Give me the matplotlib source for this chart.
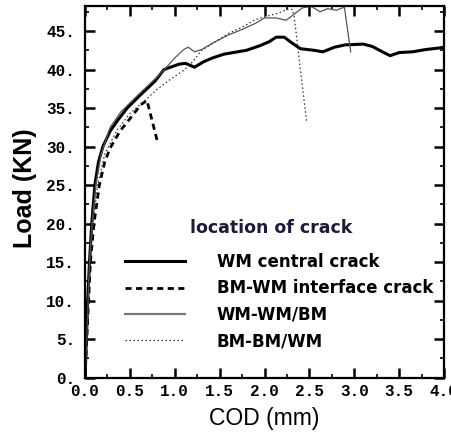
import numpy as np
import matplotlib
matplotlib.use("Agg")
import matplotlib.pyplot as plt
from matplotlib.ticker import MultipleLocator, FuncFormatter

# load-COD curves, one pair of arrays per crack location
wm_central_cod = [0, 0.015, 0.03, 0.05, 0.075, 0.11, 0.15, 0.2, 0.28, 0.37, 0.47, 0.6, 0.69, 0.78, 0.88,
                  1.05, 1.12, 1.22, 1.32, 1.42, 1.55, 1.7, 1.8, 1.95, 2.05, 2.13, 2.22, 2.3, 2.4, 2.55,
                  2.65, 2.78, 2.9, 3.1, 3.2, 3.33, 3.4, 3.5, 3.65, 3.8, 3.95, 4.0]
wm_central_load = [0, 5, 10, 15, 20, 25, 28, 30, 32, 33.5, 35, 36.5, 37.5, 38.5, 40,
                   40.7, 40.8, 40.3, 41, 41.5, 42, 42.3, 42.5, 43.1, 43.6, 44.2, 44.2, 43.5, 42.7, 42.5,
                   42.3, 42.9, 43.2, 43.3, 43.0, 42.2, 41.8, 42.2, 42.3, 42.6, 42.8, 42.9]

interface_cod = [0, 0.02, 0.06, 0.1, 0.16, 0.22, 0.28, 0.39, 0.54, 0.62, 0.69, 0.81]
interface_load = [0, 5, 15, 20, 25, 28, 29.8, 32, 34.2, 35.4, 36, 30.5]

wm_wmbm_cod = [0, 0.02, 0.05, 0.08, 0.12, 0.18, 0.28, 0.4, 0.6, 0.8, 0.9, 1.0, 1.1, 1.15, 1.22, 1.3,
               1.45, 1.6, 1.75, 1.9, 2.0, 2.13, 2.24, 2.32, 2.42, 2.52, 2.62, 2.7, 2.8, 2.89, 2.96]
wm_wmbm_load = [0, 5, 15, 20, 25, 29, 32.5, 34.5, 36.8, 39, 40.2, 41.5, 42.6, 42.9, 42.3, 42.6,
                43.6, 44.5, 45.2, 46, 46.7, 46.7, 46.4, 47.1, 48.0, 48.2, 47.5, 47.9, 47.7, 48.1, 42.3]

bm_bmwm_cod = [0, 0.02, 0.06, 0.09, 0.14, 0.22, 0.35, 0.5, 0.65, 0.8, 0.95, 1.1, 1.2, 1.3, 1.45,
               1.6, 1.75, 1.9, 2.05, 2.15, 2.25, 2.31, 2.33, 2.40, 2.47]
bm_bmwm_load = [0, 5, 15, 20, 25, 29, 32, 34.3, 35.8, 37.4, 38.7, 39.9, 41, 42.5, 43.6,
                44.7, 45.5, 46.5, 47, 47.3, 47.8, 47.8, 47, 40, 33.2]

labels = ["WM central crack", "BM-WM interface crack", "WM-WM/BM", "BM-BM/WM"]
legend_title = "location of crack"

fig = plt.figure(figsize=(4.51, 4.36), dpi=100)
ax = fig.add_axes([85 / 451, 1 - 377.5 / 436, (444 - 85) / 451, (377.5 - 6) / 436])

ax.plot(wm_central_cod, wm_central_load, color="black", lw=2.2, label=labels[0])
ax.plot(interface_cod, interface_load, color="black", lw=2.0, ls=(0, (2.2, 1.6)), label=labels[1])
ax.plot(wm_wmbm_cod, wm_wmbm_load, color="#555555", lw=0.9, label=labels[2])
ax.plot(bm_bmwm_cod, bm_bmwm_load, color="#333333", lw=0.9, ls=(0, (1.2, 2.0)), label=labels[3])

ax.set_xlim(0, 4.0)
ax.set_ylim(0, 48.25)

# ticks pointing in, on all four sides
ax.xaxis.set_major_locator(MultipleLocator(0.5))
ax.xaxis.set_minor_locator(MultipleLocator(0.25))
ax.yaxis.set_major_locator(MultipleLocator(5))
ax.yaxis.set_minor_locator(MultipleLocator(2.5))
ax.xaxis.set_major_formatter(FuncFormatter(lambda v, p: f"{v:.1f}"))
ax.yaxis.set_major_formatter(FuncFormatter(lambda v, p: f"{v:.0f}."))
ax.tick_params(which="both", direction="in", top=True, right=True, color="black")
ax.tick_params(which="major", length=7.5, width=1.8)
ax.tick_params(axis="y", which="major", pad=7)
ax.tick_params(axis="x", which="major", pad=5)
ax.tick_params(which="minor", length=3, width=1.2)
for lab in ax.get_xticklabels() + ax.get_yticklabels():
    lab.set_family("Liberation Mono")
    lab.set_weight("bold")
    lab.set_fontsize(11.5)
for sp in ax.spines.values():
    sp.set_linewidth(1.6)

ax.set_xlabel("COD (mm)", family="Liberation Sans", fontsize=16.5)
ax.xaxis.set_label_coords(0.5, -(407 - 377.5) / 371.5)
ax.set_ylabel("Load (KN)", family="Liberation Sans", fontsize=18, weight="bold")
ax.yaxis.set_label_coords(-(85 - 37) / 359, 0.51)

leg = ax.legend(loc="upper left", bbox_to_anchor=((125 - 85) / 359, (377.5 - 253) / 371.5),
                frameon=False, handlelength=3.6, handletextpad=1.9,
                labelspacing=0.5, borderaxespad=0, borderpad=0,
                prop={"family": "DejaVu Sans", "weight": "bold", "size": 12})
leg.get_lines()[2].set_color("#777777")
leg.get_lines()[2].set_linewidth(1.6)
ax.text((271 - 85) / 359, (377.5 - 228) / 371.5, legend_title, transform=ax.transAxes,
        ha="center", va="center", family="DejaVu Sans", weight="bold", fontsize=12.5,
        color="#1c1c3a")

fig.savefig("out.png", dpi=100)
